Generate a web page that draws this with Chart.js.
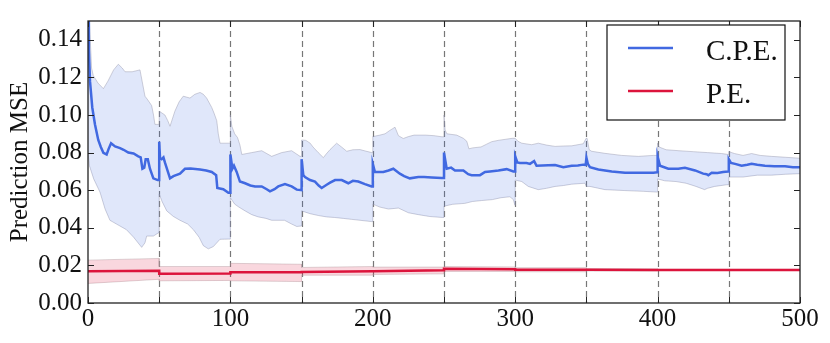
<!DOCTYPE html>
<html>
<head>
<meta charset="utf-8">
<script src="https://cdn.jsdelivr.net/npm/chart.js@4.4.0/dist/chart.umd.min.js"></script>
<style>
  body { margin: 0; background: #fff; }
  #wrap { width: 830px; height: 343px; }
</style>
</head>
<body>
<div id="wrap"><canvas id="mseChart"></canvas></div>
<script>
// x positions of the dashed separators
const resetPoints = [50, 100, 150, 200, 250, 300, 350, 400, 450];
const xTicks = [0, 50, 100, 150, 200, 250, 300, 350, 400, 450, 500];
const yTicks = [0, 0.02, 0.04, 0.06, 0.08, 0.10, 0.12, 0.14];

// C.P.E. mean curve, [x, mse]
const cpeMean = [
  [0,0.16],[0.6,0.135],[1.4,0.118],[3,0.104],[4.9,0.095],[7.2,0.0867],[9,0.083],[10.8,0.0799],[13.1,0.079],
  [14.5,0.082],[16.2,0.085],[19,0.0833],[22.5,0.0824],[25,0.0815],[28.3,0.080],[32,0.0795],[35.3,0.078],
  [37,0.0775],[38.2,0.0714],[39.5,0.072],[40.5,0.0765],[42,0.0765],[43.5,0.0714],[45.9,0.0663],[48.9,0.0654],[50,0.0654],
  [50,0.0858],[50.6,0.077],[51.7,0.0765],[53,0.0775],[54,0.0748],[57.6,0.0663],[60,0.0675],[64.6,0.0688],
  [68.1,0.0714],[72,0.0715],[78.7,0.0710],[83,0.0705],[86.9,0.0697],[90,0.0680],[90.8,0.0612],[95,0.0605],[98.6,0.0586],[100,0.0586],
  [100,0.079],[101.4,0.0714],[102.5,0.073],[104.4,0.0697],[106.7,0.0646],[110.3,0.0637],[114,0.0625],[117.3,0.062],
  [122,0.062],[125.5,0.0605],[127.8,0.0594],[131,0.0605],[133.6,0.062],[138.3,0.0632],[143,0.062],[146.6,0.0603],[150,0.0600],
  [150,0.0765],[151.2,0.068],[152.4,0.067],[155.9,0.0654],[159.4,0.0646],[162,0.0625],[164.1,0.0612],[167.6,0.0629],
  [170,0.064],[173.5,0.0654],[178.2,0.0654],[182.8,0.0637],[186,0.0650],[189.8,0.0646],[194.5,0.0632],[199.2,0.062],[200,0.062],
  [200,0.074],[201.5,0.0697],[207.4,0.0697],[211,0.0705],[214.4,0.0714],[219,0.0688],[222,0.0675],[226,0.0663],
  [232,0.067],[236,0.067],[241.4,0.0668],[248.4,0.0665],[250,0.0665],
  [250,0.080],[251.9,0.0714],[255,0.072],[257.7,0.0705],[263.6,0.0705],[267,0.0685],[269.4,0.068],[275.3,0.068],
  [278.8,0.0697],[282.3,0.0700],[288.2,0.0705],[294,0.0712],[298.7,0.0700],[300,0.070],
  [300,0.078],[301.5,0.0748],[303.4,0.0745],[308,0.0745],[310.4,0.074],[313.3,0.0755],[315,0.073],[323.3,0.0733],
  [328,0.0734],[333.8,0.0722],[339.7,0.073],[344,0.0732],[347.8,0.0736],[349.5,0.0735],
  [350,0.0773],[351,0.074],[352.5,0.0722],[358.4,0.071],[367.8,0.070],[377.1,0.0693],[386.5,0.0693],[397,0.0693],[399.8,0.0695],
  [400,0.078],[401.7,0.073],[407.5,0.0714],[414.5,0.0714],[419.2,0.0719],[426.3,0.0705],[432,0.0688],[434.4,0.0685],
  [435.6,0.068],[438,0.0693],[442,0.0692],[446,0.0697],[449.5,0.0700],
  [450,0.0765],[451.5,0.0745],[454.4,0.074],[459,0.073],[463,0.0735],[466,0.074],[470,0.0735],[475.4,0.073],
  [482,0.0728],[489.5,0.0727],[495,0.0722],[500,0.0722]
];
const cpeUpper = [
  [0,0.20],[1,0.15],[2.5,0.125],[3.7,0.121],[7,0.117],[10.8,0.114],[14,0.118],[18,0.124],[21.3,0.127],[24,0.125],
  [26,0.123],[31,0.123],[36.5,0.124],[38,0.118],[40,0.110],[42,0.108],[44.7,0.105],[46,0.100],[47,0.095],[50,0.095],
  [50,0.102],[52,0.101],[54,0.100],[56,0.097],[57.6,0.094],[61,0.102],[64,0.107],[66.9,0.110],[71.6,0.109],[75,0.111],
  [78.7,0.112],[81,0.111],[83.3,0.109],[86.9,0.104],[88.5,0.101],[90.4,0.097],[91.5,0.090],[92.7,0.085],[98.5,0.085],[100,0.085],
  [100,0.100],[101,0.094],[103,0.090],[105,0.088],[106.7,0.084],[108,0.079],[115,0.080],[122,0.081],[129,0.078],
  [136,0.080],[143,0.081],[148.9,0.078],[150,0.078],
  [150,0.0867],[153,0.0865],[156,0.085],[158,0.083],[161.7,0.080],[165.3,0.0773],[167,0.079],[170,0.0816],[174.6,0.085],
  [178,0.083],[181.7,0.0807],[186,0.0815],[191,0.0816],[195,0.0808],[199.2,0.080],[200,0.080],
  [200,0.0885],[205,0.0893],[208.6,0.090],[212,0.0918],[215.6,0.0935],[218,0.0890],[221.4,0.0875],[225,0.0885],
  [229,0.0893],[237,0.0893],[243,0.0890],[248.6,0.0884],[250,0.0884],
  [250,0.100],[250.8,0.092],[252,0.090],[258.9,0.0893],[263.6,0.0876],[266,0.0860],[267.5,0.0820],[270,0.0825],
  [276,0.0830],[280,0.0845],[283.5,0.0858],[288,0.0865],[298,0.0876],[300,0.0876],
  [302,0.0860],[304.6,0.085],[311.6,0.0842],[316.2,0.085],[322,0.0840],[328,0.0833],[334,0.0835],[339.7,0.0836],
  [347.8,0.0847],[349.8,0.0876],[350.5,0.0876],[352,0.0815],[353.7,0.0807],[363,0.0796],[374.8,0.0785],[386.5,0.078],
  [397,0.0785],[399.8,0.0785],
  [400,0.0850],[401,0.0830],[406,0.0815],[415,0.0810],[425,0.0805],[435,0.080],[445,0.0795],[449.5,0.079],
  [450,0.0805],[454,0.0795],[460,0.0785],[466,0.0795],[472,0.0785],[480,0.0780],[490,0.0775],[500,0.0770]
];
const cpeLower = [
  [0,0.080],[1,0.073],[4,0.066],[8.4,0.059],[12,0.050],[15.4,0.044],[20,0.042],[27,0.039],[32,0.035],[37.7,0.0296],
  [40,0.032],[41.2,0.0356],[45.9,0.0356],[49.4,0.0373],[50,0.0373],
  [50,0.058],[52,0.054],[55.3,0.049],[60,0.046],[64.6,0.044],[70,0.042],[74,0.039],[78,0.035],[81,0.0305],[84.5,0.0288],
  [88,0.030],[92.7,0.0339],[98.5,0.034],[100,0.034],
  [100,0.056],[103,0.0526],[106,0.051],[110.3,0.049],[115,0.047],[119.6,0.0458],[125,0.045],[129,0.044],[138,0.044],
  [143,0.042],[146.6,0.0407],[150,0.041],
  [150,0.049],[156,0.0475],[162,0.0465],[167.6,0.0458],[173,0.0455],[179.3,0.045],[185,0.0445],[191,0.044],[199.2,0.0433],[200,0.0433],
  [200,0.0526],[205,0.051],[211,0.050],[218,0.0505],[225,0.048],[232,0.047],[240,0.046],[248.8,0.0455],[250,0.0455],
  [250,0.0515],[256,0.0525],[264.7,0.053],[270,0.054],[276.5,0.0545],[284,0.0550],[290,0.056],[296.3,0.0565],
  [298.7,0.055],[299.8,0.052],[300,0.052],
  [300,0.0654],[304.6,0.0646],[309.2,0.062],[316.2,0.0603],[322,0.061],[328,0.062],[334,0.0625],[339.7,0.0632],
  [349,0.0637],[350,0.062],[352.5,0.062],[363,0.0603],[377,0.0598],[390,0.0594],[399.8,0.0590],
  [400,0.066],[405,0.065],[413,0.0646],[420,0.0637],[427,0.062],[433,0.0603],[435,0.061],[440,0.0620],[448.5,0.0629],[450,0.0629],
  [450,0.067],[460,0.067],[470,0.068],[480,0.068],[490,0.0685],[500,0.0688]
];

// P.E. curve and band
const peMean = [
  [0,0.0169],[50,0.0172],[50,0.0155],[100,0.0157],[100,0.0164],[150,0.0164],[150,0.0165],[200,0.0169],
  [250,0.0174],[250,0.0182],[300,0.0180],[300,0.0177],[350,0.0177],[400,0.0176],[450,0.0176],[500,0.0176]
];
const peUpper = [
  [0,0.0228],[50,0.0237],[50,0.0194],[100,0.0194],[100,0.0211],[150,0.0206],[150,0.0189],[200,0.0194],
  [200,0.0191],[250,0.0191],[250,0.0194],[300,0.0192],[300,0.0188],[350,0.0188],[350,0.0183],[400,0.0182],
  [400,0.0179],[500,0.0179]
];
const peLower = [
  [0,0.0104],[50,0.0126],[50,0.0118],[100,0.012],[100,0.0118],[150,0.0114],[150,0.0148],[200,0.0148],
  [200,0.0152],[250,0.0155],[250,0.0168],[300,0.0168],[300,0.0166],[350,0.0166],[350,0.0170],[400,0.0170],
  [400,0.0173],[500,0.0173]
];

const BLUE = '#4169e1';
const RED = '#dc143c';
const SERIF = '"Liberation Serif", "Times New Roman", serif';

function pts(arr) { return arr.map(p => ({ x: p[0], y: p[1] })); }

// frame, inward ticks, dashed separators and the legend box
const decor = {
  id: 'decor',
  beforeDatasetsDraw(chart) {
    const { ctx, chartArea: a, scales } = chart;
    ctx.save();
    ctx.strokeStyle = '#777';
    ctx.lineWidth = 1.2;
    ctx.setLineDash([6, 4]);
    resetPoints.forEach(v => {
      const px = Math.round(scales.x.getPixelForValue(v)) + 0.5;
      ctx.beginPath();
      ctx.moveTo(px, a.top);
      ctx.lineTo(px, a.bottom);
      ctx.stroke();
    });
    ctx.restore();
  },
  afterDraw(chart) {
    const { ctx, chartArea: a, scales } = chart;
    ctx.save();
    ctx.strokeStyle = '#222';
    ctx.lineWidth = 1;
    yTicks.forEach(v => {
      const py = Math.round(scales.y.getPixelForValue(v)) + 0.5;
      ctx.beginPath();
      ctx.moveTo(a.left, py); ctx.lineTo(a.left + 6, py);
      ctx.moveTo(a.right, py); ctx.lineTo(a.right - 6, py);
      ctx.stroke();
    });
    xTicks.forEach(v => {
      const px = Math.round(scales.x.getPixelForValue(v)) + 0.5;
      ctx.beginPath();
      ctx.moveTo(px, a.bottom); ctx.lineTo(px, a.bottom - 6);
      ctx.moveTo(px, a.top); ctx.lineTo(px, a.top + 6);
      ctx.stroke();
    });
    ctx.lineWidth = 1.3;
    ctx.strokeRect(a.left, a.top, a.right - a.left, a.bottom - a.top);

    // legend
    ctx.fillStyle = '#fff';
    ctx.fillRect(607, 25, 178, 95);
    ctx.strokeStyle = '#111';
    ctx.lineWidth = 1.2;
    ctx.strokeRect(607, 25, 178, 95);
    const items = [chart.data.datasets[0], chart.data.datasets[1]];
    items.forEach((ds, i) => {
      const y = 48 + i * 43;
      ctx.strokeStyle = ds.borderColor;
      ctx.lineWidth = 2.5;
      ctx.beginPath();
      ctx.moveTo(628, y); ctx.lineTo(673, y);
      ctx.stroke();
      ctx.fillStyle = '#111';
      ctx.font = '29px ' + SERIF;
      ctx.textBaseline = 'alphabetic';
      ctx.fillText(ds.label, 706, y + 12);
    });
    ctx.restore();
  }
};

new Chart(document.getElementById('mseChart'), {
  type: 'line',
  data: {
    datasets: [
      { label: 'C.P.E.', data: pts(cpeMean), borderColor: BLUE, borderWidth: 2.5, pointRadius: 0, fill: false },
      { label: 'P.E.', data: pts(peMean), borderColor: RED, borderWidth: 2.5, pointRadius: 0, fill: false },
      { label: 'cpe_hi', data: pts(cpeUpper), borderColor: 'rgba(150,150,170,0.45)', borderWidth: 1,
        pointRadius: 0, fill: '+1', backgroundColor: 'rgba(65,105,225,0.16)' },
      { label: 'cpe_lo', data: pts(cpeLower), borderColor: 'rgba(150,150,170,0.45)', borderWidth: 1,
        pointRadius: 0, fill: false },
      { label: 'pe_hi', data: pts(peUpper), borderColor: 'rgba(175,150,155,0.4)', borderWidth: 1,
        pointRadius: 0, fill: '+1', backgroundColor: 'rgba(220,20,60,0.17)' },
      { label: 'pe_lo', data: pts(peLower), borderColor: 'rgba(175,150,155,0.4)', borderWidth: 1,
        pointRadius: 0, fill: false }
    ]
  },
  options: {
    responsive: true,
    maintainAspectRatio: false,
    animation: false,
    layout: { padding: { left: 0, right: 30, top: 9, bottom: 0 } },
    plugins: { legend: { display: false }, tooltip: { enabled: false } },
    elements: { line: { tension: 0 } },
    scales: {
      x: {
        type: 'linear', min: 0, max: 500,
        grid: { display: false, drawTicks: false }, border: { display: false },
        ticks: { stepSize: 100, color: '#111', font: { family: SERIF, size: 25 }, padding: 1, maxRotation: 0 },
        afterFit(s) { s.height = 40; }
      },
      y: {
        min: 0, max: 0.15,
        grid: { display: false, drawTicks: false }, border: { display: false },
        ticks: { stepSize: 0.02, includeBounds: false, color: '#111', font: { family: SERIF, size: 25 }, padding: 6,
          callback: v => v.toFixed(2) },
        title: { display: true, text: 'Prediction MSE', color: '#111', font: { family: SERIF, size: 25 },
          padding: { top: 5, bottom: 0 } },
        afterFit(s) { s.width = 88; }
      }
    }
  },
  plugins: [decor]
});
</script>
</body>
</html>
